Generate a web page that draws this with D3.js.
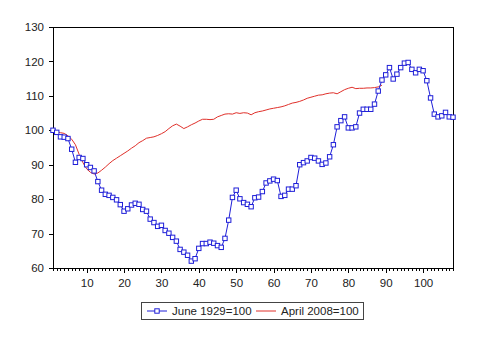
<!DOCTYPE html>
<html>
<head>
<meta charset="utf-8">
<script src="https://d3js.org/d3.v7.min.js"></script>
<style>
  html, body { margin: 0; padding: 0; background: #fff; }
  svg { display: block; font-family: "Liberation Sans", Arial, sans-serif; }
</style>
</head>
<body>
<svg id="chart" width="488" height="344"></svg>
<script>
// ---- data ----
const seriesNames = ["June 1929=100", "April 2008=100"];
const june1929 = [100.0, 99.4, 98.1, 98.0, 97.6, 94.5, 90.7, 92.1, 91.8, 90.0,
  89.2, 88.2, 85.1, 82.6, 81.4, 81.1, 80.5, 79.8, 78.4, 76.5,
  77.2, 78.3, 78.8, 78.5, 77.0, 76.5, 74.2, 73.2, 72.1, 72.4,
  70.9, 70.1, 68.9, 67.8, 65.4, 64.6, 63.7, 62.0, 62.7, 65.7,
  67.1, 67.1, 67.5, 67.2, 66.5, 66.0, 68.6, 73.9, 80.5, 82.6,
  80.1, 79.0, 78.5, 77.8, 80.4, 80.6, 82.2, 84.7, 85.3, 85.8,
  85.4, 80.8, 81.1, 82.9, 82.9, 83.9, 90.0, 90.6, 91.1, 92.1,
  91.9, 91.1, 90.1, 90.5, 92.3, 95.8, 101.0, 102.8, 103.9, 100.7,
  100.7, 101.0, 105.0, 106.1, 106.1, 106.1, 107.6, 111.4, 114.6, 116.1,
  118.2, 114.9, 116.3, 118.2, 119.5, 119.7, 117.7, 116.7, 117.7, 117.3,
  114.4, 109.4, 104.7, 103.9, 104.2, 105.2, 103.9, 103.8];
const april2008 = [100.0, 99.6, 99.3, 99.1, 98.4, 97.4, 95.8, 93.0, 90.6, 88.8,
  87.8, 87.3, 87.6, 88.4, 89.3, 90.3, 91.2, 91.9, 92.6, 93.3,
  94.0, 94.8, 95.5, 96.4, 97.0, 97.7, 97.9, 98.1, 98.5, 99.0,
  99.6, 100.5, 101.3, 101.8, 101.2, 100.5, 101.0, 101.6, 102.1, 102.7,
  103.2, 103.2, 103.1, 103.2, 103.9, 104.3, 104.7, 104.8, 104.7, 105.1,
  104.9, 105.1, 105.0, 104.5, 105.1, 105.4, 105.6, 105.9, 106.2, 106.4,
  106.6, 106.8, 107.1, 107.5, 107.9, 108.1, 108.4, 108.8, 109.3, 109.6,
  109.9, 110.2, 110.3, 110.6, 110.8, 110.9, 110.6, 111.2, 111.8, 112.2,
  112.5, 112.1, 112.2, 112.2, 112.3, 112.3, 112.4, 112.6, 113.1];
const yTicks = [60, 70, 80, 90, 100, 110, 120, 130];
const xTickLabels = [10, 20, 30, 40, 50, 60, 70, 80, 90, 100];

// ---- layout ----
const svg = d3.select("#chart");
const L = 53, R = 453, T = 27, B = 268;
const x = d3.scaleLinear().domain([1, june1929.length]).range([L, R]);
const y = d3.scaleLinear().domain([60, 130]).range([B, T]);

const blue = "#1f1fd8", red = "#e0302a", textCol = "#222";

// frame
svg.append("rect").attr("x", L).attr("y", T).attr("width", R - L).attr("height", B - T)
  .attr("fill", "none").attr("stroke", "#000").attr("stroke-width", 1)
  .attr("shape-rendering", "crispEdges");

// y axis
const yAxis = svg.append("g").attr("transform", `translate(${L},0)`)
  .call(d3.axisLeft(y).tickValues(yTicks).tickSize(4).tickPadding(5).tickSizeOuter(0));
yAxis.select(".domain").remove();
yAxis.selectAll("line").attr("stroke", "#000").attr("shape-rendering", "crispEdges");
yAxis.selectAll("text").attr("font-size", 11.5).attr("fill", textCol)
  .attr("font-family", "'Liberation Sans', Arial, sans-serif");

// x axis minor ticks
const xMinor = svg.append("g").attr("transform", `translate(0,${B})`)
  .call(d3.axisBottom(x).tickValues(d3.range(1, june1929.length + 1)).tickSize(3).tickFormat("").tickSizeOuter(0));
xMinor.select(".domain").remove();
xMinor.selectAll("line").attr("stroke", "#000").attr("shape-rendering", "crispEdges");

// x axis major
const xMajor = svg.append("g").attr("transform", `translate(0,${B})`)
  .call(d3.axisBottom(x).tickValues(xTickLabels).tickSize(5).tickPadding(6).tickSizeOuter(0));
xMajor.select(".domain").remove();
xMajor.selectAll("line").attr("stroke", "#000").attr("shape-rendering", "crispEdges");
xMajor.selectAll("text").attr("font-size", 11.5).attr("fill", textCol)
  .attr("font-family", "'Liberation Sans', Arial, sans-serif");

// lines
const line = d3.line().x((d, i) => x(i + 1)).y(d => y(d));
svg.append("path").datum(april2008).attr("d", line)
  .attr("fill", "none").attr("stroke", red).attr("stroke-width", 1);
svg.append("path").datum(june1929).attr("d", line)
  .attr("fill", "none").attr("stroke", blue).attr("stroke-width", 1);
svg.append("g").selectAll("rect").data(june1929).join("rect")
  .attr("x", (d, i) => x(i + 1) - 2.2).attr("y", d => y(d) - 2.2)
  .attr("width", 4.4).attr("height", 4.4)
  .attr("fill", "#fff").attr("stroke", blue).attr("stroke-width", 1);

// legend
const lg = svg.append("g");
lg.append("rect").attr("x", 141.5).attr("y", 302.5).attr("width", 222).attr("height", 17)
  .attr("fill", "#fff").attr("stroke", "#444").attr("stroke-width", 1);
const legendItems = [
  { name: seriesNames[0], color: blue, marker: true, x0: 147 },
  { name: seriesNames[1], color: red, marker: false, x0: 256 }
];
legendItems.forEach(it => {
  lg.append("line").attr("x1", it.x0).attr("x2", it.x0 + 20).attr("y1", 311).attr("y2", 311)
    .attr("stroke", it.color).attr("stroke-width", 1);
  if (it.marker) {
    lg.append("rect").attr("x", it.x0 + 10 - 2.2).attr("y", 311 - 2.2).attr("width", 4.4).attr("height", 4.4)
      .attr("fill", "#fff").attr("stroke", it.color);
  }
  lg.append("text").attr("x", it.x0 + 25).attr("y", 311).attr("dy", "0.35em")
    .attr("font-size", 11.5).attr("fill", textCol).text(it.name);
});
</script>
</body>
</html>
